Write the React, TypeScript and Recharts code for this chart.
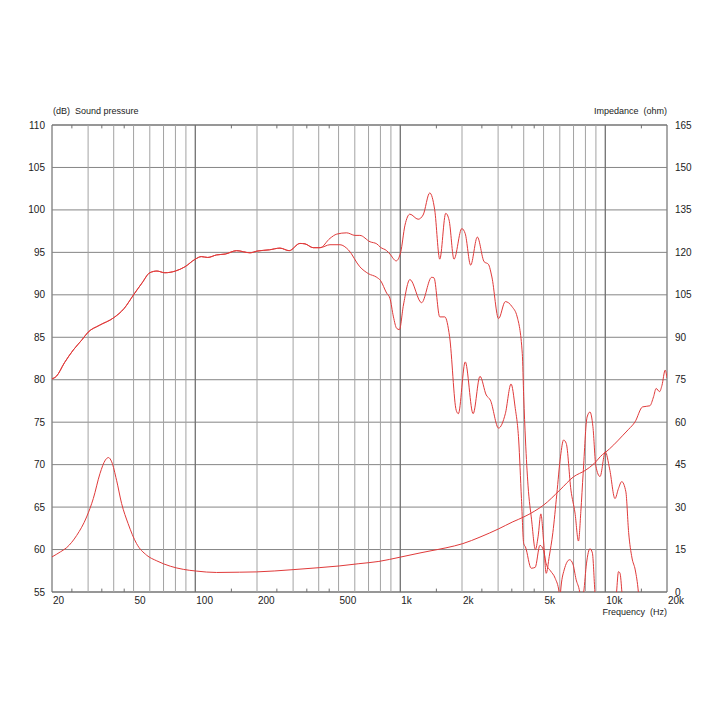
import React from 'react';
import { LineChart, Line, XAxis, YAxis, ReferenceLine, ReferenceArea } from 'recharts';

// ---- data ----
// common part of both SPL curves (Hz, dB)
const sharedFreq = [20, 21, 23, 25.4, 28, 30, 34, 40, 45, 50, 55, 60, 65, 71, 80, 89, 100, 107, 115, 127, 140, 159, 185, 200, 230, 259, 287, 324, 343, 376, 406];
const sharedDb = [80.1, 80.4, 82.0, 83.5, 84.7, 85.6, 86.4, 87.3, 88.4, 90.0, 91.4, 92.6, 92.8, 92.6, 92.8, 93.3, 94.2, 94.5, 94.4, 94.7, 94.8, 95.2, 94.95, 95.15, 95.3, 95.5, 95.2, 96.05, 96.0, 95.55, 95.55];

// on-axis SPL continuation
const onAxisFreq = [454, 490, 548, 601, 635, 712, 768, 800, 858, 890, 955, 1004, 1054, 1114, 1222, 1292, 1392, 1472, 1558, 1666, 1730, 1828, 1996, 2074, 2204, 2376, 2564, 2690, 2798, 3016, 3254, 3510, 3718, 3936, 4000, 4080, 4200, 4370, 4560, 4700, 4850, 5000, 5150, 5330, 5550, 5800, 6050, 6260, 6450, 6800, 7117, 7400, 7600, 7800, 8150, 8420, 8700, 9000, 9425, 10000, 10500, 11150, 11600, 12030, 12600, 13000, 13500, 14000, 14500, 15000, 20000];
const onAxisDb = [96.65, 97.15, 97.3, 97.0, 97.0, 96.25, 96.0, 95.6, 95.2, 94.8, 94.0, 95.0, 98.2, 99.5, 98.9, 99.4, 102.0, 100.0, 94.2, 99.6, 98.8, 94.2, 97.8, 97.2, 93.5, 96.8, 93.9, 93.6, 92.1, 87.2, 89.2, 88.6, 87.4, 83.1, 78.0, 72.9, 67.5, 63.5, 60.0, 61.5, 64.2, 61.0, 57.2, 59.2, 62.0, 66.5, 71.0, 72.9, 72.5, 67.0, 64.3, 61.0, 64.5, 69.0, 75.6, 76.2, 74.5, 69.8, 68.6, 71.5, 69.5, 66.0, 67.2, 68.0, 66.8, 62.0, 59.0, 57.6, 55.0, 50.0, 50.0];

// off-axis SPL continuation
const offAxisFreq = [454, 508, 558, 635, 698, 768, 800, 858, 890, 926, 960, 990, 1036, 1114, 1270, 1422, 1460, 1558, 1649, 1740, 1874, 1920, 2074, 2266, 2448, 2626, 2750, 3016, 3254, 3470, 3630, 3780, 3900, 4000, 4080, 4350, 4550, 4800, 5000, 5150, 5400, 5700, 5950, 6000, 6050, 6300, 6700, 6950, 7200, 7500, 7650, 7850, 8100, 8420, 8650, 8900, 9100, 11100, 11350, 11600, 11800, 12050, 12300, 20000];
const offAxisDb = [95.9, 95.9, 95.3, 93.3, 92.5, 92.06, 91.7, 90.2, 89.6, 87.4, 86.05, 85.9, 88.8, 91.8, 89.07, 92.06, 92.0, 87.4, 87.4, 85.07, 76.4, 76.0, 82.1, 76.0, 80.4, 78.2, 77.6, 74.3, 76.0, 79.5, 76.8, 72.9, 66.0, 60.7, 60.3, 57.8, 57.9, 60.5, 59.9, 58.3, 57.5, 56.6, 55.0, 53.5, 55.0, 57.6, 58.8, 58.3, 56.5, 55.0, 53.5, 55.0, 58.4, 60.1, 59.6, 55.0, 52.0, 52.0, 55.0, 57.4, 57.2, 55.0, 52.0, 52.0];

// impedance (Hz, ohm)
const impFreq = [20, 22, 23.6, 26.4, 29.5, 31.8, 34.3, 36.4, 37.7, 39.1, 41.3, 43.7, 47, 51.7, 57.9, 64.9, 75.6, 87.4, 101, 127, 164, 199, 300, 402, 503, 628, 786, 997, 1248, 1396, 1670, 2020, 2448, 3016, 3540, 4000, 4500, 5000, 6000, 7000, 8000, 8800, 9700, 10000, 11000, 12200, 13000, 13965, 15200, 16500, 17200, 17700, 18400, 18900, 19600, 20000];
const impOhm = [12.4, 14.2, 15.7, 20.0, 26.5, 33.0, 41.9, 46.6, 47.5, 46.0, 39.5, 31.3, 24.2, 17.1, 13.0, 11.0, 9.1, 8.0, 7.4, 6.9, 7.0, 7.1, 7.9, 8.6, 9.2, 10.0, 10.8, 12.3, 13.8, 14.5, 15.6, 17.1, 19.4, 22.3, 24.8, 26.5, 28.5, 30.7, 36.0, 40.7, 43.0, 45.3, 48.6, 49.3, 52.0, 55.4, 57.5, 60.1, 65.4, 65.8, 69.0, 71.9, 70.8, 73.0, 78.4, 75.6];

// axes
const splTicks = [55, 60, 65, 70, 75, 80, 85, 90, 95, 100, 105, 110];
const ohmTicks = [0, 15, 30, 45, 60, 75, 90, 105, 120, 135, 150, 165];
const freqLabelTicks = [20, 50, 100, 200, 500, 1000, 2000, 5000, 10000, 20000];
const freqLabels = ['20', '50', '100', '200', '500', '1k', '2k', '5k', '10k', '20k'];
const gridFreqs = [30, 40, 50, 60, 70, 80, 90, 100, 200, 300, 400, 500, 600, 700, 800, 900, 1000, 2000, 3000, 4000, 5000, 6000, 7000, 8000, 9000, 10000];
const decadeFreqs = [100, 1000, 10000];
const minorTickFreqs = [25, 35, 45, 150, 250, 350, 450, 1500, 2500, 3500, 4500, 15000];

const F_MIN = 20;
const F_MAX = 20000;
const SPL_MIN = 55;
const SPL_MAX = 110;

const zip = (fs: number[], vs: number[]) => fs.map((f, i) => ({ f, v: vs[i] }));
const onAxisData = [...zip(sharedFreq, sharedDb), ...zip(onAxisFreq, onAxisDb)];
const offAxisData = [...zip(sharedFreq, sharedDb), ...zip(offAxisFreq, offAxisDb)];
const impData = zip(impFreq, impOhm);

const FONT = '"Liberation Sans", Arial, sans-serif';
const TEXT = '#222';
const RED = '#e03a3a';

const FreqTick = (props: any) => {
  const { x, y, payload } = props;
  const i = freqLabelTicks.indexOf(payload.value);
  return (
    <text x={x + 1} y={y} dy="0.71em" textAnchor="start" fontSize={10} fill={TEXT} fontFamily={FONT}>
      {i >= 0 ? freqLabels[i] : ''}
    </text>
  );
};

export default function App() {
  const W = 712;
  const H = 712;
  return (
    <div style={{ position: 'relative', width: W, height: H }}>
      <LineChart width={W} height={H} margin={{ top: 117, right: 13, bottom: 98, left: 4 }}>
        <XAxis
          dataKey="f"
          type="number"
          scale="log"
          domain={[F_MIN, F_MAX]}
          allowDataOverflow
          ticks={freqLabelTicks}
          interval={0}
          height={30}
          axisLine={false}
          tickLine={false}
          tickSize={3}
          tickMargin={2}
          tick={<FreqTick />}
        />
        <YAxis
          yAxisId="spl"
          orientation="left"
          domain={[SPL_MIN, SPL_MAX]}
          ticks={splTicks}
          interval={0}
          allowDataOverflow
          width={40}
          axisLine={false}
          tickLine={false}
          tickSize={5}
          tickMargin={2}
          tick={{ fontSize: 10, fill: TEXT, fontFamily: FONT }}
        />
        <YAxis
          yAxisId="imp"
          orientation="right"
          domain={[0, 165]}
          ticks={ohmTicks}
          interval={0}
          allowDataOverflow
          width={40}
          axisLine={false}
          tickLine={false}
          tickSize={6}
          tickMargin={2}
          tick={{ fontSize: 10, fill: TEXT, fontFamily: FONT }}
        />
        {splTicks.map((t) => (
          <ReferenceLine key={'h' + t} yAxisId="spl" y={t} stroke="#858585" strokeWidth={1} />
        ))}
        {gridFreqs.map((g) => (
          <ReferenceLine
            key={'v' + g}
            yAxisId="spl"
            x={g}
            stroke={decadeFreqs.includes(g) ? '#707070' : '#a3a3a3'}
            strokeWidth={decadeFreqs.includes(g) ? 1.3 : 1}
          />
        ))}
        {minorTickFreqs.map((m) => (
          <ReferenceLine
            key={'mb' + m}
            yAxisId="spl"
            segment={[{ x: m, y: SPL_MIN }, { x: m, y: SPL_MIN + 0.4 }]}
            stroke="#707070"
          />
        ))}
        {minorTickFreqs.map((m) => (
          <ReferenceLine
            key={'mt' + m}
            yAxisId="spl"
            segment={[{ x: m, y: SPL_MAX }, { x: m, y: SPL_MAX - 0.4 }]}
            stroke="#707070"
          />
        ))}
        <ReferenceArea
          yAxisId="spl"
          x1={F_MIN}
          x2={F_MAX}
          y1={SPL_MIN}
          y2={SPL_MAX}
          fill="none"
          fillOpacity={0}
          stroke="#555"
          strokeWidth={1}
        />
        <Line
          yAxisId="spl"
          data={offAxisData}
          dataKey="v"
          type="monotone"
          stroke={RED}
          strokeWidth={1}
          dot={false}
          activeDot={false}
          isAnimationActive={false}
        />
        <Line
          yAxisId="spl"
          data={onAxisData}
          dataKey="v"
          type="monotone"
          stroke={RED}
          strokeWidth={1}
          dot={false}
          activeDot={false}
          isAnimationActive={false}
        />
        <Line
          yAxisId="imp"
          data={impData}
          dataKey="v"
          type="monotone"
          stroke={RED}
          strokeWidth={1}
          dot={false}
          activeDot={false}
          isAnimationActive={false}
        />
      </LineChart>
      <svg width={W} height={H} style={{ position: 'absolute', left: 0, top: 0, pointerEvents: 'none' }}>
        <text x={45} y={106} fontSize={9} fill={TEXT} fontFamily={FONT} textAnchor="start" style={{ whiteSpace: 'pre' }}>
          {'(dB)  Sound pressure'}
        </text>
        <text x={659} y={106} fontSize={9} fill={TEXT} fontFamily={FONT} textAnchor="end" style={{ whiteSpace: 'pre' }}>
          {'Impedance  (ohm)'}
        </text>
        <text x={659} y={607} fontSize={9} fill={TEXT} fontFamily={FONT} textAnchor="end" style={{ whiteSpace: 'pre' }}>
          {'Frequency  (Hz)'}
        </text>
      </svg>
    </div>
  );
}
